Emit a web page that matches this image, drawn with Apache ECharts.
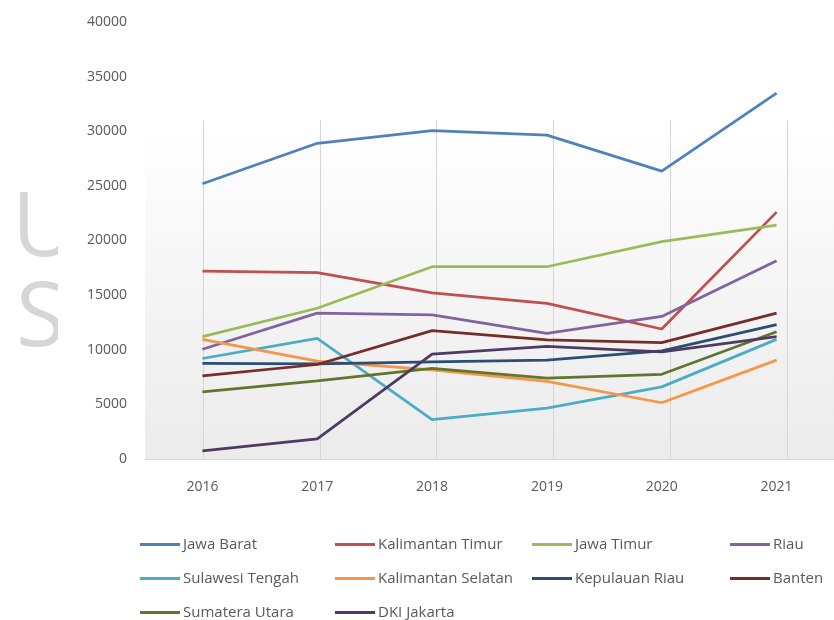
<!DOCTYPE html>
<html>
<head>
<meta charset="utf-8">
<script src="https://cdn.jsdelivr.net/npm/echarts@6/dist/echarts.min.js"></script>
<style>html,body{margin:0;padding:0;background:#fff;}#c{width:834px;height:620px;}</style>
</head>
<body>
<div id="c"></div>
<script>
const years = ['2016','2017','2018','2019','2020','2021'];
const jawaBarat = [25200, 28900, 30050, 29650, 26350, 33500];
const kalimantanTimur = [17200, 17050, 15200, 14250, 11900, 22600];
const jawaTimur = [11200, 13800, 17600, 17600, 19900, 21400];
const riau = [10050, 13350, 13200, 11500, 13050, 18150];
const sulawesiTengah = [9200, 11050, 3600, 4650, 6600, 10950];
const kalimantanSelatan = [10950, 8950, 8150, 7100, 5150, 9050];
const kepulauanRiau = [8750, 8700, 8900, 9050, 9900, 12300];
const banten = [7600, 8650, 11750, 10900, 10650, 13350];
const sumateraUtara = [6150, 7150, 8300, 7400, 7750, 11650];
const dkiJakarta = [750, 1850, 9600, 10300, 9800, 11200];

const seriesDefs = [
  ['Jawa Barat', jawaBarat, '#4f81bd'],
  ['Kalimantan Timur', kalimantanTimur, '#c0504d'],
  ['Jawa Timur', jawaTimur, '#9bbb59'],
  ['Riau', riau, '#8064a2'],
  ['Sulawesi Tengah', sulawesiTengah, '#4bacc6'],
  ['Kalimantan Selatan', kalimantanSelatan, '#f79646'],
  ['Kepulauan Riau', kepulauanRiau, '#2c4d75'],
  ['Banten', banten, '#772c2a'],
  ['Sumatera Utara', sumateraUtara, '#5f7530'],
  ['DKI Jakarta', dkiJakarta, '#4d3b62']
];

const FONT = 'Open Sans';
const chart = echarts.init(document.getElementById('c'), null, {renderer: 'canvas'});

function legendCol(names, left) {
  return {
    orient: 'vertical', left: left, top: 536, height: 120, padding: 0,
    icon: 'rect', itemWidth: 40, itemHeight: 3, itemGap: 17,
    textStyle: {color: '#595959', fontSize: 15, fontFamily: FONT, lineHeight: 17, padding: [0,0,0,-2]},
    data: names
  };
}

const option = {
  animation: false,
  backgroundColor: '#ffffff',
  graphic: [
    {type: 'rect', z: -10, shape: {x: 145, y: 120, width: 689, height: 339},
      style: {fill: new echarts.graphic.LinearGradient(0, 0, 0, 1, [
        {offset: 0, color: '#ffffff'}, {offset: 1, color: '#ebebeb'}])}},
    {type: 'text', z: -5, left: 12, top: 185, style: {text: 'U', fontSize: 90, fontFamily: FONT, fill: '#d6d6d6'}},
    {type: 'text', z: -5, left: 16, top: 275, style: {text: 'S', fontSize: 90, fontFamily: FONT, fill: '#d6d6d6'}},
    {type: 'rect', z: -4, shape: {x: 58, y: 180, width: 20, height: 200}, style: {fill: '#ffffff'}}
  ],
  grid: [
    {left: 145, right: -11, top: 22, bottom: 161},
    {left: 203, right: 47, top: 120, bottom: 161}
  ],
  legend: [
    legendCol(['Jawa Barat', 'Sulawesi Tengah', 'Sumatera Utara'], 140),
    legendCol(['Kalimantan Timur', 'Kalimantan Selatan', 'DKI Jakarta'], 335),
    legendCol(['Jawa Timur', 'Kepulauan Riau'], 532),
    legendCol(['Riau', 'Banten'], 730)
  ],
  xAxis: [
    {type: 'category', gridIndex: 0, data: years, boundaryGap: true,
      axisLine: {lineStyle: {color: '#d9d9d9', width: 1}},
      axisTick: {show: false},
      axisLabel: {color: '#595959', fontSize: 14, fontFamily: FONT, margin: 21},
      splitLine: {show: false}},
    {type: 'category', gridIndex: 1, data: years, boundaryGap: false,
      axisLine: {show: false}, axisTick: {show: false}, axisLabel: {show: false},
      splitLine: {show: true, lineStyle: {color: '#d6d6d6', width: 1}}}
  ],
  yAxis: [
    {type: 'value', gridIndex: 0, min: 0, max: 40000, interval: 5000,
      axisLine: {show: false}, axisTick: {show: false},
      axisLabel: {color: '#595959', fontSize: 14, fontFamily: FONT, margin: 18,
        formatter: function (v) { return String(v); }},
      splitLine: {show: false}},
    {type: 'value', gridIndex: 1, show: false, splitLine: {show: false}}
  ],
  series: seriesDefs.map(([name, data, color]) => ({
    name: name, type: 'line', xAxisIndex: 0, yAxisIndex: 0, data: data,
    symbol: 'none', showSymbol: false, smooth: false,
    itemStyle: {color: color},
    lineStyle: {color: color, width: 2.75},
    emphasis: {disabled: true}
  }))
};
chart.setOption(option);
</script>
</body>
</html>
